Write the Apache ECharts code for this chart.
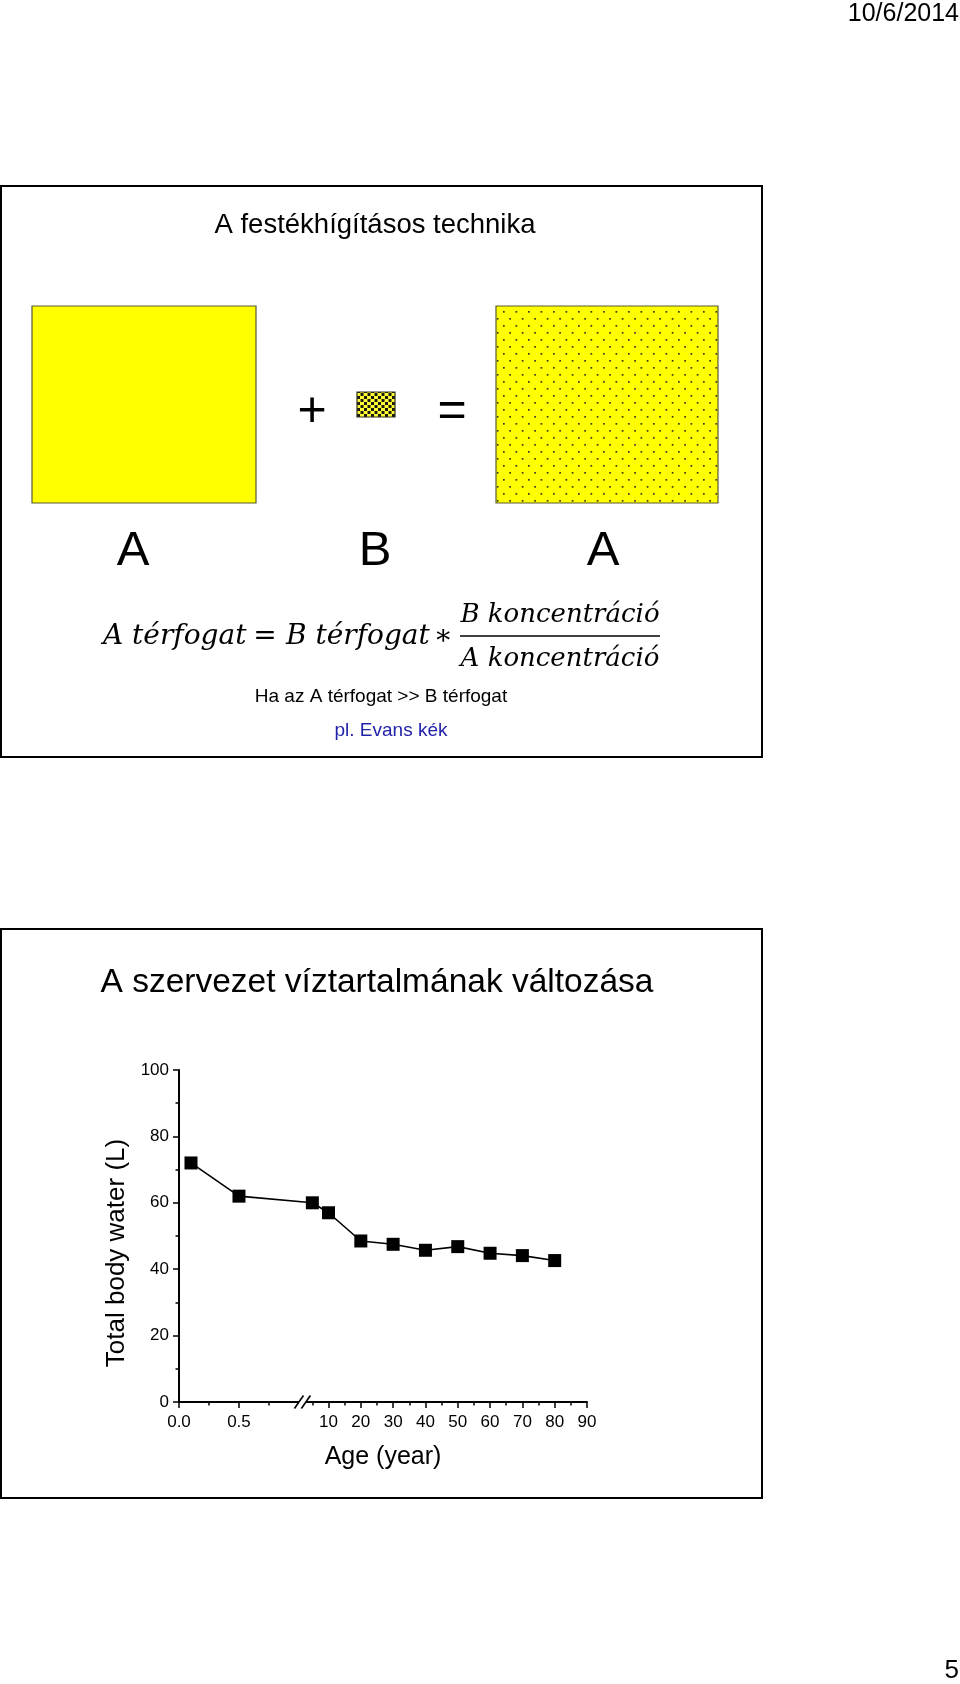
<!DOCTYPE html>
<html>
<head>
<meta charset="utf-8">
<script src="https://cdn.jsdelivr.net/npm/echarts@6/dist/echarts.min.js"></script>
<style>
html,body{margin:0;padding:0;background:#fff;}
#c{width:960px;height:1684px;}
</style>
</head>
<body>
<div id="c"></div>
<script>
// ---------------- data ----------------
const ages = [0.1, 0.5, 5, 10, 20, 30, 40, 50, 60, 70, 80];
const water = [72, 62, 60, 57, 48.5, 47.5, 45.7, 46.8, 44.8, 44.1, 42.6];
const xMajorTicks = [0, 0.5, 10, 20, 30, 40, 50, 60, 70, 80, 90];
const xMajorLabels = ['0.0', '0.5', '10', '20', '30', '40', '50', '60', '70', '80', '90'];
const xMinorTicks = [0.25, 0.75, 5, 15, 25, 35, 45, 55, 65, 75, 85];
const yMin = 0, yMax = 100, yInterval = 20;

// ---------------- broken x scale (two linear segments) ----------------
const LEFT_YEARS = [0, 1];     // years shown before the axis break
const RIGHT_YEARS = [3, 90];   // years shown after the axis break
const LEFT_SHARE = 0.294;      // share of axis length used by left segment
const RIGHT_START = 0.311;     // where right segment starts (after gap)
function axisPos(age) {
  if (age <= LEFT_YEARS[1]) {
    return (age - LEFT_YEARS[0]) / (LEFT_YEARS[1] - LEFT_YEARS[0]) * LEFT_SHARE;
  }
  return RIGHT_START + (age - RIGHT_YEARS[0]) / (RIGHT_YEARS[1] - RIGHT_YEARS[0]) * (1 - RIGHT_START);
}
function labelFor(v) {
  for (let i = 0; i < xMajorTicks.length; i++) {
    if (Math.abs(axisPos(xMajorTicks[i]) - v) < 1e-6) return xMajorLabels[i];
  }
  return '';
}

const SANS = '"Liberation Sans", Arial, Helvetica, sans-serif';
const SERIF_IT = '"DejaVu Serif", "Liberation Serif", serif';

const chart = echarts.init(document.getElementById('c'), null, {renderer: 'canvas', width: 960, height: 1684});

chart.setOption({
  animation: false,
  backgroundColor: '#ffffff',
  grid: {left: 179, top: 1070, width: 408, height: 332, containLabel: false},
  xAxis: [
    {
      type: 'value', min: 0, max: 1, position: 'bottom',
      axisLine: {show: true, onZero: false, lineStyle: {color: '#000', width: 2}},
      axisTick: {show: true, customValues: xMajorTicks.map(axisPos), length: 6, lineStyle: {color: '#000', width: 1.5}},
      axisLabel: {show: true, customValues: xMajorTicks.map(axisPos), formatter: labelFor,
        fontSize: 17, color: '#000', fontFamily: SANS, margin: 12},
      splitLine: {show: false},
      name: 'Age (year)', nameLocation: 'middle', nameGap: 43,
      nameTextStyle: {fontSize: 25, color: '#000', fontFamily: SANS}
    },
    {
      type: 'value', min: 0, max: 1, position: 'bottom',
      axisLine: {show: false},
      axisTick: {show: true, customValues: xMinorTicks.map(axisPos), length: 3.5, lineStyle: {color: '#000', width: 1.5}},
      axisLabel: {show: false},
      splitLine: {show: false}
    }
  ],
  yAxis: {
    type: 'value', min: yMin, max: yMax, interval: yInterval,
    axisLine: {show: true, lineStyle: {color: '#000', width: 2}},
    axisTick: {show: true, length: 6, lineStyle: {color: '#000', width: 1.5}},
    minorTick: {show: true, splitNumber: 2, length: 3.5, lineStyle: {color: '#000', width: 1.5}},
    axisLabel: {fontSize: 17, color: '#000', fontFamily: SANS, margin: 10},
    splitLine: {show: false}
  },
  series: [{
    type: 'line',
    xAxisIndex: 0, yAxisIndex: 0,
    data: ages.map((a, i) => [axisPos(a), water[i]]),
    symbol: 'rect', symbolSize: 13,
    itemStyle: {color: '#000'},
    lineStyle: {color: '#000', width: 1.6},
    z: 5
  }]
});

// ---------------- patterns ----------------
function makePattern(w, h, bg, dotColor, dots, size) {
  const c = document.createElement('canvas');
  c.width = w; c.height = h;
  const g = c.getContext('2d');
  g.fillStyle = bg; g.fillRect(0, 0, w, h);
  g.fillStyle = dotColor;
  dots.forEach(d => g.fillRect(d[0], d[1], size, size));
  return {image: c, repeat: 'repeat'};
}
const sparseDots = makePattern(25, 14, '#ffff00', '#3a3a20', [[3, 3], [15.5, 3], [9.25, 10], [21.75, 10]], 1.7);
const denseDots = makePattern(7, 6, '#ffff33', '#1a1a10', [[0, 0], [3.5, 3]], 3);

// ---------------- axis break marks ----------------
const y0 = chart.convertToPixel({yAxisIndex: 0}, 0);
const xb1 = chart.convertToPixel({xAxisIndex: 0}, axisPos(LEFT_YEARS[1]));
const xb2 = chart.convertToPixel({xAxisIndex: 0}, axisPos(RIGHT_YEARS[0]));
const yMid = chart.convertToPixel({yAxisIndex: 0}, 50);

function txt(text, x, y, size, opts) {
  opts = opts || {};
  const el = {
    type: 'text', x: x, y: y, z: 50,
    style: {
      text: text, fill: opts.color || '#000',
      font: (opts.style || 'normal') + ' ' + (opts.weight || 'normal') + ' ' + size + 'px ' + (opts.family || SANS),
      align: opts.align || 'center', verticalAlign: opts.valign || 'middle'
    }
  };
  if (opts.rotation) el.rotation = opts.rotation;
  return el;
}

const elements = [
  // header / footer
  txt('10/6/2014', 959, 14, 25, {align: 'right'}),
  txt('5', 959, 1671, 26, {align: 'right'}),

  // slide 1 frame
  {type: 'rect', shape: {x: 1, y: 186, width: 761, height: 571}, style: {fill: 'none', stroke: '#000', lineWidth: 2}, z: 40},
  txt('A festékhígításos technika', 375, 225, 27.5),
  {type: 'rect', shape: {x: 32, y: 306, width: 224, height: 197}, style: {fill: '#ffff00', stroke: '#5a5a30', lineWidth: 1.2}, z: 40},
  txt('+', 312, 412, 50),
  {type: 'rect', shape: {x: 357, y: 392, width: 38, height: 25}, style: {fill: denseDots, stroke: '#333322', lineWidth: 1.2}, z: 40},
  txt('=', 452, 412, 50),
  {type: 'rect', shape: {x: 496, y: 306, width: 222, height: 197}, style: {fill: sparseDots, stroke: '#5a5a30', lineWidth: 1.2}, z: 40},
  txt('A', 133, 551, 49),
  txt('B', 375, 551, 49),
  txt('A', 603, 551, 49),

  // formula
  txt('A térfogat', 103, 637, 28, {align: 'left', style: 'italic', family: SERIF_IT}),
  txt('=', 265, 637, 28, {style: 'italic', family: SERIF_IT}),
  txt('B térfogat', 286, 637, 28, {align: 'left', style: 'italic', family: SERIF_IT}),
  txt('∗', 443, 637, 28, {style: 'italic', family: SERIF_IT}),
  txt('B koncentráció', 560, 615, 26, {style: 'italic', family: SERIF_IT}),
  {type: 'line', shape: {x1: 460, y1: 636, x2: 660, y2: 636}, style: {stroke: '#000', lineWidth: 1.6}, z: 40},
  txt('A koncentráció', 560, 659, 26, {style: 'italic', family: SERIF_IT}),
  txt('Ha az A térfogat >> B térfogat', 381, 697, 19),
  txt('pl. Evans kék', 391, 731, 19, {color: '#2222aa'}),

  // slide 2 frame
  {type: 'rect', shape: {x: 1, y: 929, width: 761, height: 569}, style: {fill: 'none', stroke: '#000', lineWidth: 2}, z: 40},
  txt('A szervezet víztartalmának változása', 377, 983, 33.5),

  // y axis title (placed lower than the axis middle, as in the original)
  txt('Total body water (L)', 117, yMid + 17, 26, {rotation: Math.PI / 2}),

  // axis break
  {type: 'rect', shape: {x: xb1, y: y0 - 3, width: xb2 - xb1, height: 6}, style: {fill: '#fff'}, z: 100},
  {type: 'line', shape: {x1: xb1 - 4.5, y1: y0 + 6.5, x2: xb1 + 4.5, y2: y0 - 6.5}, style: {stroke: '#000', lineWidth: 1.6}, z: 101},
  {type: 'line', shape: {x1: xb2 - 4.5, y1: y0 + 6.5, x2: xb2 + 4.5, y2: y0 - 6.5}, style: {stroke: '#000', lineWidth: 1.6}, z: 101}
];

chart.setOption({graphic: {elements: elements}});
</script>
</body>
</html>
